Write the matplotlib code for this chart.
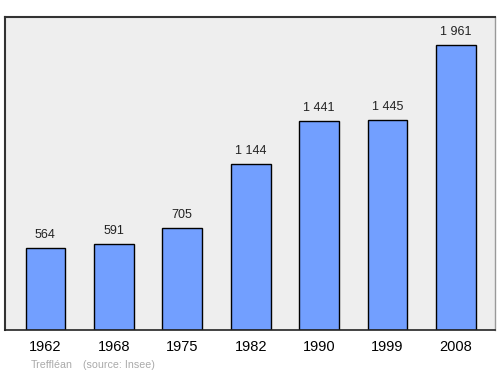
import matplotlib
matplotlib.use("Agg")
import matplotlib.pyplot as plt

# population data
years = ["1962", "1968", "1975", "1982", "1990", "1999", "2008"]
population = [564, 591, 705, 1144, 1441, 1445, 1961]
value_labels = ["564", "591", "705", "1 144", "1 441", "1 445", "1 961"]

plt.rcParams['font.family'] = ['Liberation Sans', 'DejaVu Sans']

fig = plt.figure(figsize=(5, 3.74), dpi=100)
ax = fig.add_axes([0.01, 0.1176, 0.98, 0.837])
ax.set_facecolor('#eeeeee')

x = range(len(years))
ax.bar(x, population, width=0.58, color='#729fff', edgecolor='black', linewidth=1, zorder=2)

for xi, v, lab in zip(x, population, value_labels):
    ax.annotate(lab, (xi, v), xytext=(0, 5), textcoords='offset points',
                ha='center', va='bottom', fontsize=9, color='#222222')

ax.set_xlim(-0.59, 6.57)
ax.set_ylim(0, 2155)
ax.set_xticks(list(x))
ax.set_xticklabels(years, fontsize=10.5)
ax.tick_params(axis='x', length=0, pad=7)
ax.set_yticks([])

for side in ['left', 'top']:
    ax.spines[side].set_color('#333333')
    ax.spines[side].set_linewidth(1.5)
ax.spines['bottom'].set_color('#222222')
ax.spines['bottom'].set_linewidth(1.2)
ax.spines['right'].set_color('#999999')
ax.spines['right'].set_linewidth(1)

fig.text(31 / 500, 1 - 365 / 374, "Treffléan", fontsize=7.7, color='#aaaaaa', va='center')
fig.text(83 / 500, 1 - 365 / 374, "(source: Insee)", fontsize=7.7, color='#aaaaaa', va='center')

fig.savefig("out.png", dpi=100)
